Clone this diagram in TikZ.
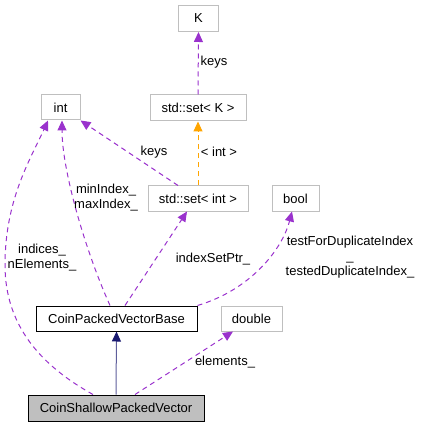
\documentclass[tikz,border=0pt]{standalone}
\usepackage{fontspec}
\setmainfont{Liberation Sans}
\usetikzlibrary{arrows.meta,calc}
\definecolor{dxpurple}{HTML}{9A32CD}
\definecolor{dxorange}{HTML}{FFA500}
\definecolor{dxgray}{HTML}{BFBFBF}
\definecolor{dxnavy}{HTML}{191970}
\tikzset{
  box/.style={draw=dxgray,line width=1pt,inner sep=0pt,align=center,font=\fontsize{13}{15}\selectfont},
  mainbox/.style={box,draw=black},
  usage/.style={dxpurple,line width=1pt,dash pattern=on 5pt off 4pt,-{Triangle[length=10pt,width=9pt]}},
  templ/.style={dxorange,line width=1pt,dash pattern=on 5pt off 4pt,-{Triangle[length=10pt,width=9pt]}},
  inherit/.style={dxnavy!70,line width=1pt,-{Triangle[length=10pt,width=9pt,color=dxnavy]}},
  lbl/.style={inner sep=0pt,align=center,font=\fontsize{13}{15}\selectfont}
}
\begin{document}
\begin{tikzpicture}[x=1pt,y=-1pt]
\useasboundingbox (0,0) rectangle (420,427);
\node[box,minimum width=40pt,minimum height=26pt] (K) at (198.5,18.5) {K};
\node[box,minimum width=96pt,minimum height=26pt] (setK) at (198,108) {std::set< K >};
\node[box,minimum width=100pt,minimum height=25pt] (setInt) at (198,198.5) {std::set< int >};
\node[box,minimum width=39pt,minimum height=25pt] (int) at (60.5,107.5) {int};
\node[box,minimum width=47pt,minimum height=25pt] (bool) at (295.5,198.5) {bool};
\node[mainbox,minimum width=161pt,minimum height=25pt] (base) at (116.5,318.5) {CoinPackedVectorBase};
\node[box,minimum width=61pt,minimum height=25pt] (double) at (251.5,318.5) {double};
\node[mainbox,fill=dxgray,minimum width=176pt,minimum height=26pt] (shallow) at (116,408) {CoinShallowPackedVector};

\draw[usage] (setK.north) -- (K.south);
\node[lbl] (lkeys1) at (214,62) {keys};
\draw[templ] (setInt.north) -- (setK.south);
\node[lbl] (lint) at (219,152) {< int >};
\draw[usage] ($(setInt.north)+(-20,0)$) -- (int.south east);
\node[lbl] (lkeys2) at (154,152) {keys};
\draw[usage] ($(base.north)+(-6.5,0)$) .. controls (85,250) and (62,170) .. ($(int.south)+(1.5,0)$);
\node[lbl] (lminmax) at (106,197.5) {minIndex\_\\maxIndex\_};
\draw[usage] ($(shallow.north)+(-23,0)$) .. controls (40,365) and (5,325) .. (5,265) .. controls (5,200) and (30,160) .. ($(int.south)+(-12.5,0)$);
\node[lbl] (lind) at (42,258) {indices\_\\nElements\_};
\draw[usage] ($(base.north)+(8.5,0)$) -- ($(setInt.south)+(-11,0)$);
\node[lbl] (lptr) at (213,259) {indexSetPtr\_};
\draw[usage] (base.north east) .. controls (250,290) and (282,250) .. ($(bool.south)+(-3.5,0)$);
\node[lbl] (ldup) at (350,257.5) {testForDuplicateIndex\\\_\\testedDuplicateIndex\_};
\draw[inherit] (shallow.north) -- (base.south);
\draw[usage] ($(shallow.north)+(19,0)$) -- ($(double.south)+(-18.5,0)$);
\node[lbl] (lel) at (225,362) {elements\_};
\end{tikzpicture}
\end{document}
